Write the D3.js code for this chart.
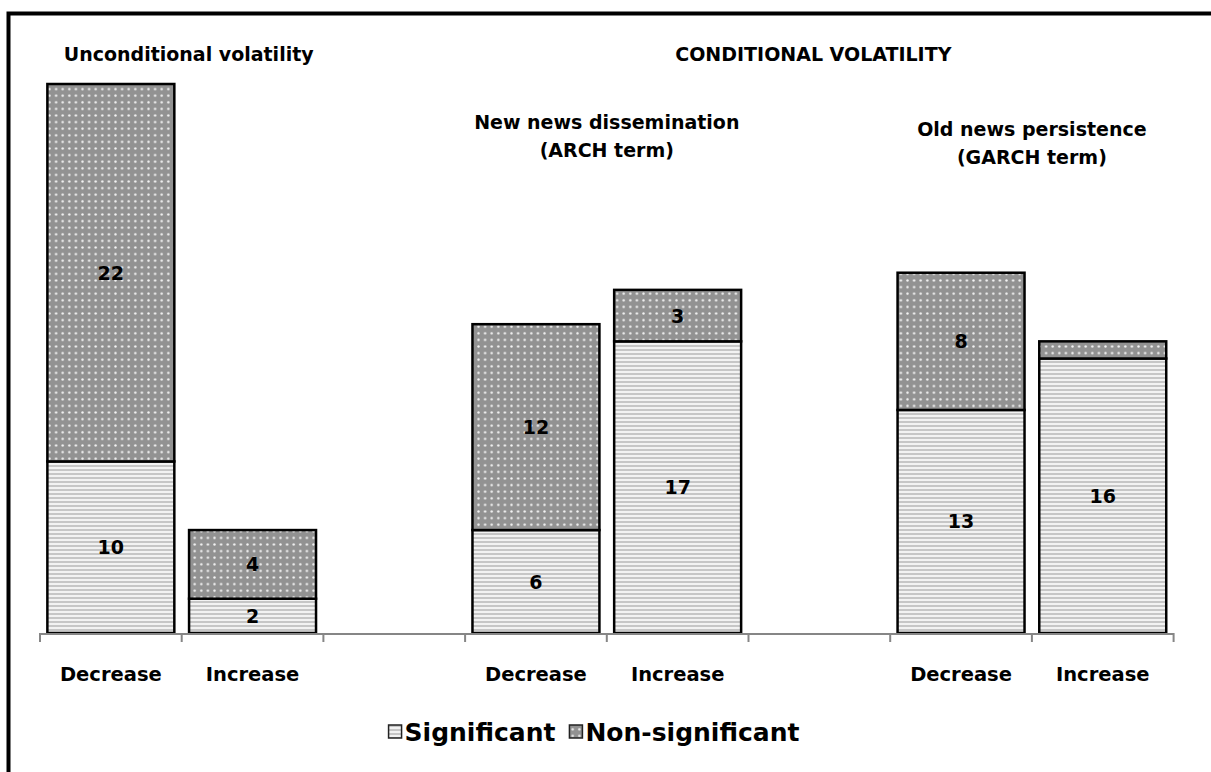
<!DOCTYPE html>
<html>
<head>
<meta charset="utf-8">
<script src="https://cdn.jsdelivr.net/npm/d3@7"></script>
<style>
  body { margin: 0; background: #fff; }
  text { font-family: "DejaVu Sans", sans-serif; font-weight: bold; fill: #000; }
</style>
</head>
<body>
<svg id="chart" width="1211" height="772"></svg>
<script>
// slots along the x axis (gaps separate the three groups)
var slots = ["uDec", "uInc", "gap1", "aDec", "aInc", "gap2", "gDec", "gInc"];
var slotLabels = ["Decrease", "Increase", "", "Decrease", "Increase", "", "Decrease", "Increase"];
var significant = [10, 2, null, 6, 17, null, 13, 16];
var nonSignificant = [22, 4, null, 12, 3, null, 8, 1];
var seriesNames = ["Significant", "Non-significant"];

var svg = d3.select('#chart');
var W = 1211, H = 772;

// outer frame
svg.append('path')
    .attr('d', 'M8.5,' + (H + 10) + 'V13.5H' + (W + 10))
    .style('fill', 'none')
    .style('stroke', 'black')
    .style('stroke-width', 4);

// patterns
var defs = svg.append('defs');
var stripes = defs.append('pattern')
    .attr('id', 'stripes')
    .attr('patternUnits', 'userSpaceOnUse')
    .attr('width', 4).attr('height', 4);
stripes.append('rect').attr('width', 4).attr('height', 4).style('fill', '#f2f2f2');
stripes.append('rect').attr('y', 1).attr('width', 4).attr('height', 2).style('fill', '#c6c6c6');

var dots = defs.append('pattern')
    .attr('id', 'dots')
    .attr('patternUnits', 'userSpaceOnUse')
    .attr('width', 6.6).attr('height', 6.6);
dots.append('rect').attr('width', 6.6).attr('height', 6.6).style('fill', '#929292');
dots.append('circle').attr('cx', 3.3).attr('cy', 3.3).attr('r', 1.2).style('fill', '#f4f4f4');

var x = d3.scaleBand()
    .domain(slots)
    .range([40, 1173.6])
    .paddingInner(0.104)
    .paddingOuter(0.052);
var y = d3.scaleLinear().domain([0, 32]).range([633, 84]);
var step = x.step();

var rows = slots.map(function(s, i){
    return { slot: s, label: slotLabels[i], sig: significant[i], non: nonSignificant[i] };
});
var barRows = rows.filter(function(d){ return d.sig !== null; });

// bars
var bars = svg.append('g').selectAll('g').data(barRows).join('g');
bars.append('rect')
    .attr('x', function(d){ return x(d.slot); })
    .attr('width', x.bandwidth())
    .attr('y', function(d){ return y(d.sig); })
    .attr('height', function(d){ return y(0) - y(d.sig); })
    .style('fill', 'url(#stripes)')
    .style('stroke', 'black')
    .style('stroke-width', 2.5);
bars.append('rect')
    .attr('x', function(d){ return x(d.slot); })
    .attr('width', x.bandwidth())
    .attr('y', function(d){ return y(d.sig + d.non); })
    .attr('height', function(d){ return y(d.sig) - y(d.sig + d.non); })
    .style('fill', 'url(#dots)')
    .style('stroke', 'black')
    .style('stroke-width', 2.5);

// value labels (too-thin segments stay unlabeled)
bars.append('text')
    .attr('x', function(d){ return x(d.slot) + x.bandwidth() / 2; })
    .attr('y', function(d){ return y(d.sig / 2) + 7; })
    .attr('text-anchor', 'middle')
    .style('font-size', '19px')
    .text(function(d){ return d.sig; });
bars.append('text')
    .attr('x', function(d){ return x(d.slot) + x.bandwidth() / 2; })
    .attr('y', function(d){ return y(d.sig + d.non / 2) + 7; })
    .attr('text-anchor', 'middle')
    .style('font-size', '19px')
    .text(function(d){ return d.non >= 2 ? d.non : ''; });

// x axis
var axis = svg.append('g');
axis.append('line')
    .attr('x1', x.range()[0]).attr('x2', x.range()[1])
    .attr('y1', y(0) + 1).attr('y2', y(0) + 1)
    .style('stroke', '#868686').style('stroke-width', 2);
var tickPos = slots.map(function(s){ return x(s) - step * x.paddingInner() / 2; });
tickPos.push(x.range()[1]);
axis.selectAll('line.tick').data(tickPos).join('line')
    .attr('class', 'tick')
    .attr('x1', function(d){ return d; }).attr('x2', function(d){ return d; })
    .attr('y1', y(0)).attr('y2', y(0) + 9)
    .style('stroke', '#868686').style('stroke-width', 2);
axis.selectAll('text').data(rows).join('text')
    .attr('x', function(d){ return x(d.slot) + x.bandwidth() / 2; })
    .attr('y', 681)
    .attr('text-anchor', 'middle')
    .style('font-size', '19.5px')
    .text(function(d){ return d.label; });

// group headings
function groupCenter(a, b){ return (x(a) + x(b) + x.bandwidth()) / 2; }
var heads = [
    { t: 'Unconditional volatility', cx: groupCenter('uDec', 'uInc') + 7, y: 61 },
    { t: 'CONDITIONAL VOLATILITY', cx: groupCenter('aDec', 'gInc') - 6, y: 61 },
    { t: 'New news dissemination', cx: groupCenter('aDec', 'aInc'), y: 129 },
    { t: '(ARCH term)', cx: groupCenter('aDec', 'aInc'), y: 157 },
    { t: 'Old news persistence', cx: groupCenter('gDec', 'gInc'), y: 136 },
    { t: '(GARCH term)', cx: groupCenter('gDec', 'gInc'), y: 164 }
];
svg.append('g').selectAll('text').data(heads).join('text')
    .attr('x', function(d){ return d.cx; })
    .attr('y', function(d){ return d.y; })
    .attr('text-anchor', 'middle')
    .style('font-size', '19px')
    .text(function(d){ return d.t; });

// legend
var legend = svg.append('g');
var items = legend.selectAll('g').data(seriesNames).join('g');
items.append('rect')
    .attr('width', 13).attr('height', 13)
    .attr('y', 725)
    .style('fill', function(d, i){ return i === 0 ? 'url(#stripes)' : 'url(#dots)'; })
    .style('stroke', '#222').style('stroke-width', 1.5);
items.append('text')
    .attr('x', 16).attr('y', 741)
    .style('font-size', '25px')
    .text(function(d){ return d; });
var lx = 0, widths = [];
items.each(function(){ widths.push(this.getBBox().width); });
var total = d3.sum(widths) + 14;
lx = 594 - total / 2;
items.attr('transform', function(d, i){
    var tx = lx;
    lx += widths[i] + 14;
    return 'translate(' + tx + ',0)';
});
</script>
</body>
</html>
